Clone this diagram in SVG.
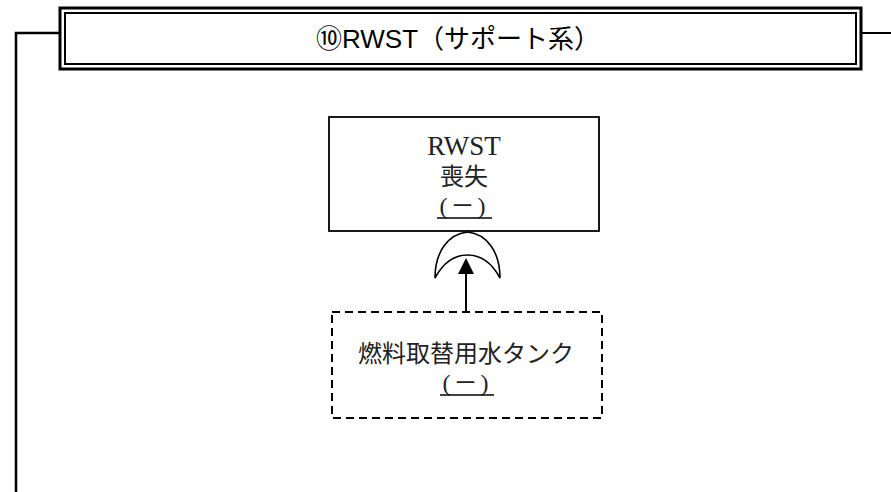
<svg xmlns="http://www.w3.org/2000/svg" width="891" height="492" viewBox="0 0 891 492">
<defs>
<style>
.frame{fill:none;stroke:#000}
.box{fill:#fff;stroke:#000;stroke-width:1.8}
.dash{fill:#fff;stroke:#000;stroke-width:2;stroke-dasharray:8 5}
.conn{fill:none;stroke:#000;stroke-width:2}
.title{font-family:"Liberation Sans","Noto Sans CJK JP",sans-serif;font-size:26px;fill:#000}
.lbl{font-family:"Liberation Serif","Noto Sans CJK JP",serif;font-size:24px;fill:#222}
.big{font-size:27px}
.ul{stroke:#000;stroke-width:1.3}
</style>
</defs>
<rect width="891" height="492" fill="#fff"/>
<g id="title">
<polyline class="frame" stroke-width="2.5" points="60,33 16,33 16,492"/>
<line class="frame" stroke-width="2" x1="861" y1="33" x2="891" y2="33"/>
<rect class="frame" stroke-width="3" x="60" y="8" width="801" height="61" fill="#fff"/>
<rect class="frame" stroke-width="2" x="65" y="13" width="791" height="51"/>
<text class="title" x="458" y="48" text-anchor="middle">⑩RWST（サポート系）</text>
</g>
<g id="gate-or">
<path d="M435,278 C435,252 448,234 467.5,232 C487,234 500,252 500,278 C492,263 482,255 467.5,255 C453,255 443,263 435,278 Z" fill="#fff" stroke="#000" stroke-width="1.6"/>
</g>
<g id="connectors">
<line class="conn" x1="466" y1="312" x2="466" y2="270"/>
<path d="M466,258 L458,274 L474,274 Z" fill="#000"/>
</g>
<g id="node-rwst">
<rect class="box" x="329" y="117" width="270" height="114"/>
<text class="lbl big" x="464" y="155" text-anchor="middle">RWST</text>
<text class="lbl" x="464" y="185" text-anchor="middle">喪失</text>
<text class="lbl" x="464" y="214" text-anchor="middle" letter-spacing="3">(－)</text>
<line class="ul" x1="437" y1="218" x2="492" y2="218"/>
</g>
<g id="node-tank">
<rect class="dash" x="332" y="312" width="270" height="106"/>
<text class="lbl" x="466" y="362" text-anchor="middle">燃料取替用水タンク</text>
<text class="lbl" x="467" y="391" text-anchor="middle" letter-spacing="3">(－)</text>
<line class="ul" x1="440" y1="395" x2="494" y2="395"/>
</g>
</svg>
